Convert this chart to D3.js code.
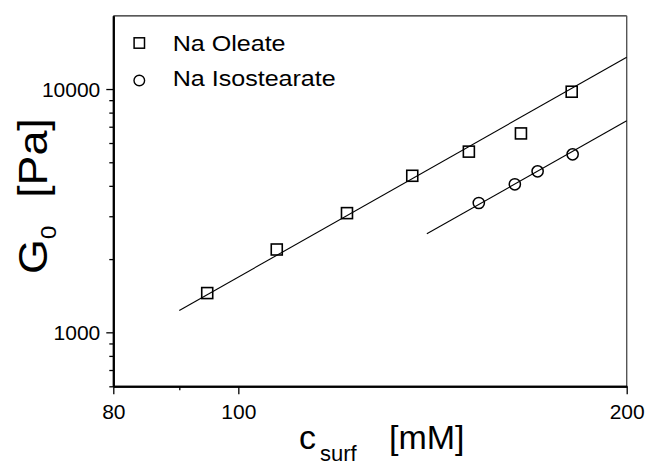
<!DOCTYPE html>
<html>
<head>
<meta charset="utf-8">
<script src="https://cdn.jsdelivr.net/npm/d3@7"></script>
<style>
  html, body { margin: 0; padding: 0; background: #fff; }
  svg { display: block; font-family: "Liberation Sans", Arial, Helvetica, sans-serif; }
</style>
</head>
<body>
<svg id="chart" width="647" height="461"></svg>
<script>
// Surfactant concentration (mM) and plateau modulus G0 (Pa)
const oleateC = [94.6, 107.1, 121.4, 136.4, 150.9, 165.6, 181.3];
const oleateG = [1450, 2190, 3090, 4400, 5530, 6570, 9750];
const isoC = [153.6, 163.8, 170.6, 181.6];
const isoG = [3400, 4060, 4590, 5390];

// Power-law fits (slope 3 on log-log axes), given by their end points
const oleateFitC = [90, 200];
const oleateFitG = [1230, 13500];
const isoFitC = [140, 200];
const isoFitG = [2540, 7410];

// Axis ticks
const xMajorTicks = [80, 100, 200];
const xMinorTicks = [90];
const yMajorTicks = [1000, 10000];
const yMinorTicks = [600, 700, 800, 900, 2000, 3000, 4000, 5000, 6000, 7000, 8000, 9000];

const seriesNames = ["Na Oleate", "Na Isostearate"];

const svg = d3.select("#chart");
const plotLeft = 113.3, plotRight = 626.7, plotTop = 15.8, plotBottom = 386.3;

const x = d3.scaleLog().domain([80, 200]).range([plotLeft, plotRight]);
const y = d3.scaleLog().domain([600, 20000]).range([plotBottom, plotTop]);

// Frame: thin top and right sides
svg.append("line").attr("x1", plotLeft).attr("x2", plotRight).attr("y1", plotTop).attr("y2", plotTop)
  .attr("stroke", "#222").attr("stroke-width", 1.2);
svg.append("line").attr("x1", plotRight).attr("x2", plotRight).attr("y1", plotTop).attr("y2", plotBottom)
  .attr("stroke", "#555").attr("stroke-width", 1.4);

function styleAxis(g) {
  g.select(".domain").attr("stroke", "#000").attr("stroke-width", 2);
  g.selectAll(".tick line").attr("stroke", "#000").attr("stroke-width", 1.3);
  g.selectAll(".tick text").attr("fill", "#000").attr("font-size", 21)
    .attr("font-family", "Liberation Sans, Arial, sans-serif");
}

// Bottom axis
const xMajor = svg.append("g").attr("transform", `translate(0,${plotBottom})`)
  .call(d3.axisBottom(x).tickValues(xMajorTicks).tickFormat(d3.format("d"))
    .tickSizeInner(8).tickSizeOuter(0).tickPadding(10));
styleAxis(xMajor);
const xMinor = svg.append("g").attr("transform", `translate(0,${plotBottom})`)
  .call(d3.axisBottom(x).tickValues(xMinorTicks).tickFormat("").tickSizeInner(4).tickSizeOuter(0));
styleAxis(xMinor);

// Left axis
const yMajor = svg.append("g").attr("transform", `translate(${plotLeft},0)`)
  .call(d3.axisLeft(y).tickValues(yMajorTicks).tickFormat(d3.format("d"))
    .tickSizeInner(7).tickSizeOuter(0).tickPadding(6));
styleAxis(yMajor);
yMajor.selectAll(".tick text").attr("dy", "0.34em");
const yMinor = svg.append("g").attr("transform", `translate(${plotLeft},0)`)
  .call(d3.axisLeft(y).tickValues(yMinorTicks).tickFormat("").tickSizeInner(4).tickSizeOuter(0));
styleAxis(yMinor);

// Fit lines
const line = d3.line().x(d => x(d[0])).y(d => y(d[1]));
svg.append("path").datum(d3.zip(oleateFitC, oleateFitG)).attr("d", line)
  .attr("fill", "none").attr("stroke", "#000").attr("stroke-width", 1.1);
svg.append("path").datum(d3.zip(isoFitC, isoFitG)).attr("d", line)
  .attr("fill", "none").attr("stroke", "#000").attr("stroke-width", 1.1);

// Markers
const sq = 11;
svg.append("g").selectAll("rect").data(d3.zip(oleateC, oleateG)).join("rect")
  .attr("x", d => x(d[0]) - sq / 2).attr("y", d => y(d[1]) - sq / 2)
  .attr("width", sq).attr("height", sq)
  .attr("fill", "none").attr("stroke", "#000").attr("stroke-width", 1.6);
svg.append("g").selectAll("circle").data(d3.zip(isoC, isoG)).join("circle")
  .attr("cx", d => x(d[0])).attr("cy", d => y(d[1])).attr("r", 5.6)
  .attr("fill", "none").attr("stroke", "#000").attr("stroke-width", 1.5);

// Legend
const leg = svg.append("g");
leg.append("rect").attr("x", 139.3 - 5.2).attr("y", 43 - 5.2).attr("width", 10.4).attr("height", 10.4)
  .attr("fill", "none").attr("stroke", "#000").attr("stroke-width", 1.5);
leg.append("circle").attr("cx", 139.3).attr("cy", 80.5).attr("r", 5.3)
  .attr("fill", "none").attr("stroke", "#000").attr("stroke-width", 1.4);
[[seriesNames[0], 50.7], [seriesNames[1], 85.7]].forEach(([t, by]) => {
  leg.append("text").attr("transform", `translate(172.7,${by}) scale(1.14,1)`)
    .attr("font-size", 22).attr("fill", "#000").text(t);
});

// X axis title: c_surf [mM]
const xt = svg.append("g").attr("transform", "translate(299,449)");
xt.append("text").attr("font-size", 34).text("c");
xt.append("text").attr("x", 21).attr("y", 12).attr("font-size", 22).text("surf");
xt.append("text").attr("x", 90).attr("font-size", 34).text("[mM]");

// Y axis title: G0 [Pa]
const yt = svg.append("g").attr("transform", "translate(47,274) rotate(-90) scale(1.12,1)");
yt.append("text").attr("font-size", 40).text("G");
yt.append("text").attr("x", 31).attr("y", 9).attr("font-size", 22).text("0");
yt.append("text").attr("x", 68).attr("font-size", 40).text("[Pa]");
</script>
</body>
</html>
